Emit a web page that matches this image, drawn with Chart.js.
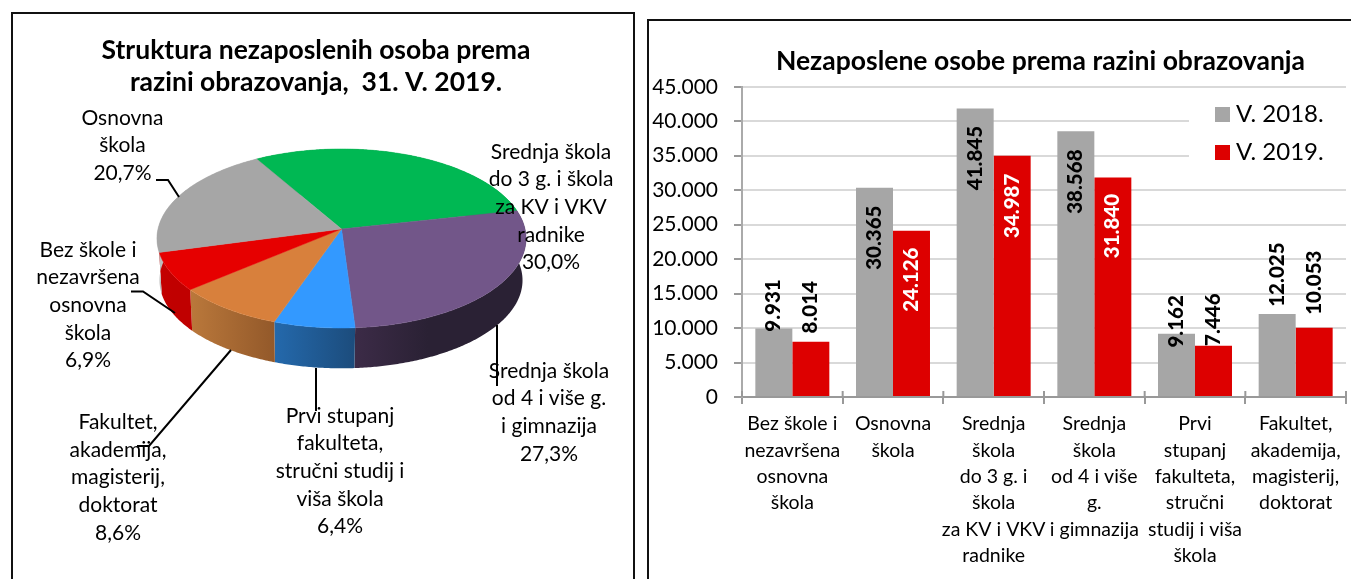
<!DOCTYPE html>
<html lang="hr">
<head>
<meta charset="utf-8">
<title>Nezaposlene osobe prema razini obrazovanja</title>
<script src="https://cdn.jsdelivr.net/npm/chart.js@4/dist/chart.umd.min.js"></script>
<style>
html,body{margin:0;padding:0;background:#fff;width:1351px;height:579px;overflow:hidden}
.frame{position:absolute;border:2px solid #111;box-sizing:border-box}
#f1{left:11px;top:12px;width:624px;height:600px}
#f2{left:647px;top:19px;width:760px;height:600px}
canvas{position:absolute;top:0}
#pie{left:0}
#bar{left:640px}
</style>
</head>
<body>
<div class="frame" id="f1"></div>
<div class="frame" id="f2"></div>
<canvas id="pie" width="632" height="579"></canvas>
<canvas id="bar" width="711" height="579"></canvas>
<script>
// ---------- data ----------
const pieTitle = ['Struktura nezaposlenih osoba prema', 'razini obrazovanja,  31. V. 2019.'];
const pieShares = [30.0, 27.3, 6.4, 8.6, 6.9, 20.7];
const pieLabelLines = [
  ['Srednja škola', 'do 3 g. i škola', 'za KV i VKV', 'radnike'],
  ['Srednja škola', 'od 4 i više g.', 'i gimnazija'],
  ['Prvi stupanj', 'fakulteta,', 'stručni studij i', 'viša škola'],
  ['Fakultet,', 'akademija,', 'magisterij,', 'doktorat'],
  ['Bez škole i', 'nezavršena', 'osnovna', 'škola'],
  ['Osnovna', 'škola']
];
const barTitle = 'Nezaposlene osobe prema razini obrazovanja';
const barCategories = [
  ['Bez škole i', 'nezavršena', 'osnovna', 'škola'],
  ['Osnovna', 'škola'],
  ['Srednja', 'škola', 'do 3 g. i', 'škola', 'za KV i VKV', 'radnike'],
  ['Srednja', 'škola', 'od 4 i više', 'g.', 'i gimnazija'],
  ['Prvi', 'stupanj', 'fakulteta,', 'stručni', 'studij i viša', 'škola'],
  ['Fakultet,', 'akademija,', 'magisterij,', 'doktorat']
];
const series2018Name = 'V. 2018.';
const series2019Name = 'V. 2019.';
const values2018 = [9931, 30365, 41845, 38568, 9162, 12025];
const values2019 = [8014, 24126, 34987, 31840, 7446, 10053];

// ---------- styles ----------
const FONT = 'Lato, Carlito, Calibri, sans-serif';
Chart.defaults.font.family = FONT;
Chart.defaults.color = '#000';
const pieTop = ['#00b853', '#725689', '#3399ff', '#d8803c', '#e60000', '#a6a6a6'];
const pieWall = [['#008a3e','#008a3e'], ['#3c2b47','#2a2134'], ['#2469ac','#1c4c7c'],
                 ['#ba783b','#93592a'], ['#c40000','#c00000'], ['#bdbdbd','#bdbdbd']];
const pieLabelPos = [[551,152],[549,371],[340,416],[118,422.5],[88,250],[122.5,118]];
const pieLeaders = [
  [[497,325],[497,386]],
  [[316,368],[316,411]],
  [[137,446],[149,446],[231,350]],
  [[131,291.5],[143,291.5],[175,313]],
  [[156,180],[168,180],[179,197]]
];
const TOP = {cx:341.5, cy:229, a:88.5, b:183.5};
const BOT = {cx:341,   cy:271, a:87,   b:180.5};
const PERSP = 0.106;
function proj(g, ang){
  const u = Math.cos(ang), v = Math.sin(ang), w = 1/(1 - PERSP*v);
  return [g.cx + g.b*u*w, g.cy + g.a*v*w];
}
function trace(ctx, g, from, to){
  const n = Math.max(2, Math.ceil(Math.abs(to-from)/0.01));
  for(let i=0;i<=n;i++){ const p = proj(g, from+(to-from)*i/n); ctx.lineTo(p[0],p[1]); }
}
const pie3d = {
  id:'pie3d',
  beforeDatasetDraw(chart){
    const ctx = chart.ctx, arcs = chart.getDatasetMeta(0).data;
    ctx.save();
    arcs.forEach((arc,i)=>{           // side wall
      const s = arc.startAngle, e = arc.endAngle;
      const xa = proj(TOP,s)[0], xb = proj(TOP,e)[0];
      const g = ctx.createLinearGradient(Math.min(xa,xb),0,Math.max(xa,xb)+0.01,0);
      g.addColorStop(0,pieWall[i][0]); g.addColorStop(0.45,pieWall[i][1]); g.addColorStop(1,pieWall[i][1]);
      if(i===2||i===3){ /* blue and orange shade evenly across the wall */
        const h = ctx.createLinearGradient(Math.min(xa,xb),0,Math.max(xa,xb)+0.01,0);
        h.addColorStop(0,pieWall[i][0]); h.addColorStop(1,pieWall[i][1]);
        ctx.fillStyle = h;
      } else ctx.fillStyle = g;
      ctx.beginPath(); trace(ctx,TOP,s,e); trace(ctx,BOT,e,s); ctx.closePath(); ctx.fill();
    });
    arcs.forEach((arc,i)=>{           // top face
      ctx.fillStyle = pieTop[i];
      ctx.strokeStyle = pieTop[i]; ctx.lineWidth = 0.5;
      ctx.beginPath(); ctx.moveTo(TOP.cx,TOP.cy); trace(ctx,TOP,arc.startAngle,arc.endAngle);
      ctx.closePath(); ctx.fill(); ctx.stroke();
    });
    ctx.strokeStyle = '#000'; ctx.lineWidth = 2; ctx.lineJoin = 'miter';
    pieLeaders.forEach(l=>{
      ctx.beginPath(); l.forEach((p,k)=>k?ctx.lineTo(p[0],p[1]):ctx.moveTo(p[0],p[1])); ctx.stroke();
    });
    ctx.fillStyle = '#000'; ctx.font = '21px '+FONT; ctx.textAlign='center'; ctx.textBaseline='middle';
    chart.data.datasets[0].data.forEach((v,i)=>{
      const lines = pieLabelLines[i].concat(v.toFixed(1).replace('.',',')+'%');
      lines.forEach((t,k)=>ctx.fillText(t,pieLabelPos[i][0],pieLabelPos[i][1]+k*27.6));
    });
    ctx.restore();
    return false;
  }
};
new Chart(document.getElementById('pie'),{
  type:'pie',
  data:{labels:pieLabelLines.map(l=>l.join(' ')),
        datasets:[{data:pieShares, backgroundColor:pieTop, borderWidth:0}]},
  options:{
    responsive:false, animation:false, rotation:-30.3,
    layout:{padding:0},
    plugins:{
      legend:{display:false}, tooltip:{enabled:false},
      title:{display:true, text:pieTitle, color:'#000', padding:{top:34,bottom:10},
             font:{size:26.5,weight:'bold',family:FONT,lineHeight:1.21}}
    }
  },
  plugins:[pie3d]
});

// ---------- bar chart ----------
const labelShift2018 = [-23, 50, 49.5, 50.5, -12.5, -39.5];
const labelShift2019 = [-34.5, 49, 50, 48.5, -26, -45];
const labelColor2018 = '#000';
const labelColor2019 = ['#000','#fff','#fff','#fff','#000','#000'];
const fmt = v => String(v).replace(/\B(?=(\d{3})+$)/g,'.');
const barExtras = {
  id:'barExtras',
  afterLayout(chart){ chart.titleBlock.left += 47.5; chart.titleBlock.right += 47.5; },
  afterDatasetsDraw(chart){
    const ctx = chart.ctx, xs = chart.scales.x, bottom = chart.chartArea.bottom;
    ctx.save();
    // upward part of category ticks
    ctx.strokeStyle='#999'; ctx.lineWidth=2;
    xs.ticks.forEach((t,i)=>{
      const a = xs.getPixelForTick(i) - (i<xs.ticks.length-1 ? (xs.getPixelForTick(i+1)-xs.getPixelForTick(i))/2 : (xs.getPixelForTick(i)-xs.getPixelForTick(i-1))/2);
      ctx.beginPath(); ctx.moveTo(a,bottom); ctx.lineTo(a,bottom-6); ctx.stroke();
    });
    const last = chart.chartArea.right;
    ctx.beginPath(); ctx.moveTo(last,bottom); ctx.lineTo(last,bottom-6); ctx.stroke();
    // value labels
    ctx.font='900 20.5px '+FONT; ctx.textAlign='center'; ctx.textBaseline='middle';
    chart.data.datasets.forEach((ds,di)=>{
      chart.getDatasetMeta(di).data.forEach((bar,i)=>{
        const shift = (di?labelShift2019:labelShift2018)[i];
        ctx.save();
        ctx.translate(bar.x, bar.y+shift);
        ctx.rotate(-Math.PI/2);
        ctx.fillStyle = di?labelColor2019[i]:labelColor2018;
        ctx.fillText(fmt(ds.data[i]),0,0);
        ctx.restore();
      });
    });
    // legend on a white box
    ctx.fillStyle='#fff'; ctx.fillRect(549,98,162,70);
    ctx.font='24px '+FONT; ctx.textAlign='left'; ctx.textBaseline='alphabetic';
    chart.data.datasets.forEach((ds,di)=>{
      ctx.fillStyle=ds.backgroundColor; ctx.fillRect(575,107+di*38,15,15);
      ctx.fillStyle='#000'; ctx.fillText(ds.label,596,122+di*37.5);
    });
    ctx.restore();
  }
};
new Chart(document.getElementById('bar'),{
  type:'bar',
  data:{labels:barCategories,
    datasets:[
      {label:series2018Name,data:values2018,backgroundColor:'#a6a6a6',categoryPercentage:0.735,barPercentage:1},
      {label:series2019Name,data:values2019,backgroundColor:'#dd0000',categoryPercentage:0.735,barPercentage:1}
    ]},
  options:{
    responsive:false, animation:false,
    layout:{padding:{right:5}},
    plugins:{
      legend:{display:false}, tooltip:{enabled:false},
      title:{display:true,text:barTitle,color:'#000',padding:{top:46,bottom:9},
             font:{size:26.5,weight:'bold',family:FONT,lineHeight:1.2}}
    },
    scales:{
      x:{
        afterFit(s){s.height=182;},
        grid:{drawOnChartArea:false,color:'#999',lineWidth:2,tickLength:7,offset:true},
        border:{color:'#999',width:2},
        ticks:{maxRotation:0,minRotation:0,autoSkip:false,padding:7,color:'#000',
               font:{size:19.5,lineHeight:1.35}}
      },
      y:{
        min:0,max:45000,
        afterFit(s){s.width=102;},
        grid:{color:'#d9d9d9',lineWidth:2,tickColor:'#999',tickLength:8,tickWidth:2},
        border:{color:'#aaa',width:2},
        ticks:{stepSize:5000,padding:16,color:'#000',font:{size:21},callback:v=>fmt(v)}
      }
    }
  },
  plugins:[barExtras]
});
</script>
</body>
</html>
